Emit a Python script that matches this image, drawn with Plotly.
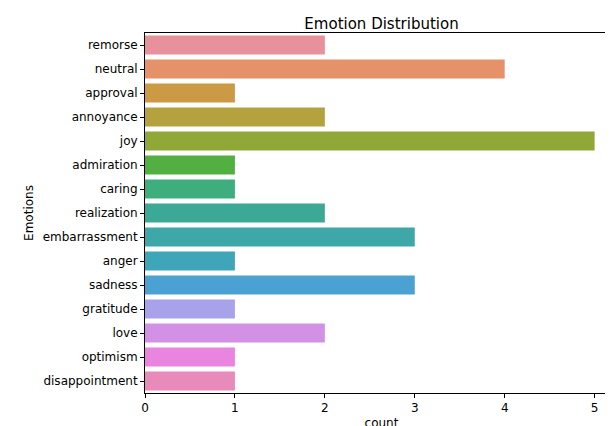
import plotly.graph_objects as go

emotions = ["remorse","neutral","approval","annoyance","joy","admiration","caring","realization",
            "embarrassment","anger","sadness","gratitude","love","optimism","disappointment"]
counts = [2,4,1,2,5,1,1,2,3,1,3,1,2,1,1]
colors = ["#e8919c","#e5926b","#cc9a45","#b4a23f","#8fa838","#52b043","#3eae7e","#3ba996",
          "#3ea8a8","#3fa5b8","#4aa1d2","#a8a2ea","#d391e6","#e985de","#e88bbb"]

fig = go.Figure(go.Bar(x=counts, y=emotions, orientation="h", marker_color=colors,
                       marker_line_width=0, width=0.8))
axis_common = dict(showline=True, linecolor="black", linewidth=1, mirror=True, ticks="outside",
                   ticklen=4, tickcolor="black", showgrid=False, zeroline=False, automargin=False)
fig.update_layout(
    width=613, height=426, paper_bgcolor="white", plot_bgcolor="white",
    font=dict(family="DejaVu Sans", size=12, color="black"),
    title=dict(text="Emotion Distribution", x=0.5, xanchor="center", xref="paper", y=0.975, font=dict(size=15)),
    margin=dict(l=137, r=3, t=25, b=41, autoexpand=False),
    xaxis=dict(title=dict(text="count", standoff=4, font=dict(size=12)), range=[0, 5.26], tickvals=[0,1,2,3,4,5], **axis_common),
    yaxis=dict(title=dict(text="Emotions", standoff=6, font=dict(size=12)), **axis_common),
    bargap=0.2, showlegend=False,
)
fig.update_yaxes(range=[14.5, -0.5], autorange=False)
fig.write_html("out.html")
